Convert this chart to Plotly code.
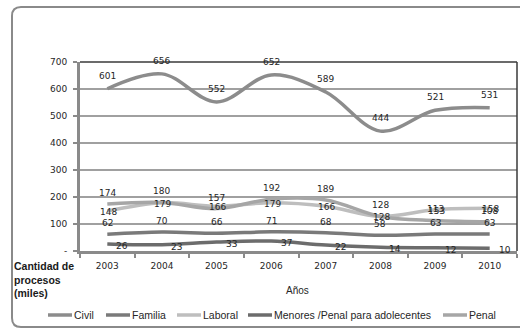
import plotly.graph_objects as go

# Procesos ingresados por materia (miles), 2003-2010
years = ["2003", "2004", "2005", "2006", "2007", "2008", "2009", "2010"]
civil = [601, 656, 552, 652, 589, 444, 521, 531]
familia = [62, 70, 66, 71, 68, 58, 63, 63]
laboral = [148, 179, 166, 179, 166, 128, 153, 158]
menores = [26, 23, 33, 37, 22, 14, 12, 10]
penal = [174, 180, 157, 192, 189, 128, 113, 108]

y_tickvals = [0, 100, 200, 300, 400, 500, 600, 700]
y_ticktext = ["-", "100", "200", "300", "400", "500", "600", "700"]

series = [
    ("Civil", civil, "#8c8c8c"),
    ("Familia", familia, "#7a7a7a"),
    ("Laboral", laboral, "#bebebe"),
    ("Menores /Penal para adolecentes", menores, "#6c6c6c"),
    ("Penal", penal, "#a6a6a6"),
]

# value-label placement per series: (xshift, yshift)
label_shift = {
    "Civil": (0, 13),
    "Familia": (0, 11),
    "Laboral": (1, -1),
    "Menores /Penal para adolecentes": (15, -2),
    "Penal": (0, 11),
}

W_PX, H_PX = 520, 329
ML, MR, MT, MB = 80, 3, 62, 78
PW = W_PX - ML - MR
PH = H_PX - MT - MB


def px(x):
    return (x - ML) / PW


def py(y):
    return (H_PX - MB - y) / PH


LABEL_FONT = "DejaVu Sans"
fig = go.Figure()

for name, vals, color in series:
    fig.add_trace(go.Scatter(
        x=years, y=vals, name=name, mode="lines",
        line=dict(color=color, width=3.5, shape="spline", smoothing=1),
        showlegend=False, hoverinfo="skip",
    ))

annotations = []
for name, vals, color in series:
    dx, dy = label_shift[name]
    for i, v in enumerate(vals):
        # category axis: annotations are placed by category index
        annotations.append(dict(
            x=i, y=v, xref="x", yref="y", text=str(v), showarrow=False,
            xshift=dx, yshift=dy,
            font=dict(family=LABEL_FONT, size=9, color="#262626"),
        ))

# legend drawn as short line samples with their names
legend_x = [48, 106, 177, 248, 443]
legend_y = 315
shapes = []
for (name, vals, color), lx in zip(series, legend_x):
    shapes.append(dict(type="line", xref="paper", yref="paper",
                       x0=px(lx), x1=px(lx + 24), y0=py(legend_y), y1=py(legend_y),
                       line=dict(color=color, width=3.5)))
    annotations.append(dict(
        x=px(lx + 24), y=py(legend_y), xref="paper", yref="paper",
        text=name, showarrow=False, xanchor="left", yanchor="middle",
        font=dict(family="Liberation Sans", size=10.5, color="#262626"),
    ))

# axis titles
annotations.append(dict(
    x=px(297), y=py(290), xref="paper", yref="paper", text="Años",
    showarrow=False, xanchor="center", yanchor="middle",
    font=dict(family="Liberation Sans", size=10, color="#262626"),
))
annotations.append(dict(
    x=px(12), y=py(258), xref="paper", yref="paper",
    text="<b>Cantidad de<br>procesos<br>(miles)</b>", align="left",
    showarrow=False, xanchor="left", yanchor="top",
    font=dict(family="Liberation Sans", size=10.5, color="#1a1a1a"),
))

# plot-area border (top and right)
shapes.append(dict(type="line", xref="paper", yref="paper", x0=0, x1=1, y0=1, y1=1,
                   line=dict(color="#3a3a3a", width=1.5)))
shapes.append(dict(type="line", xref="paper", yref="paper", x0=1, x1=1, y0=0, y1=1,
                   line=dict(color="#3a3a3a", width=1.5)))

# rounded outer frame
L, T, R, B, r = 12, 7, 545, 327, 9
path = (
    f"M {px(L + r)},{py(T)} L {px(R - r)},{py(T)} "
    f"Q {px(R)},{py(T)} {px(R)},{py(T + r)} L {px(R)},{py(B - r)} "
    f"Q {px(R)},{py(B)} {px(R - r)},{py(B)} L {px(L + r)},{py(B)} "
    f"Q {px(L)},{py(B)} {px(L)},{py(B - r)} L {px(L)},{py(T + r)} "
    f"Q {px(L)},{py(T)} {px(L + r)},{py(T)} Z"
)
shapes.append(dict(type="path", xref="paper", yref="paper", path=path,
                   line=dict(color="#8a8a8a", width=2), layer="below"))

fig.update_layout(
    width=W_PX, height=H_PX,
    margin=dict(l=ML, r=MR, t=MT, b=MB),
    paper_bgcolor="white", plot_bgcolor="white",
    shapes=shapes, annotations=annotations,
    showlegend=False,
)
fig.update_xaxes(
    type="category", range=[-0.5, 7.5],
    showline=True, linecolor="#8a8a8a", linewidth=3,
    ticks="outside", ticklen=4, tickcolor="#8a8a8a", tickwidth=1.5,
    tickson="boundaries", showgrid=False,
    tickfont=dict(family=LABEL_FONT, size=9, color="#262626"),
    ticklabelstandoff=4,
)
fig.update_yaxes(
    range=[0, 700], tickvals=y_tickvals, ticktext=y_ticktext,
    showline=True, linecolor="#8a8a8a", linewidth=3,
    ticks="outside", ticklen=4, tickcolor="#8a8a8a", tickwidth=1.5,
    showgrid=True, gridcolor="#a0a0a0", gridwidth=1.5, zeroline=False,
    tickfont=dict(family=LABEL_FONT, size=9, color="#262626"),
    ticklabelstandoff=4,
)

fig.write_html("out.html")
